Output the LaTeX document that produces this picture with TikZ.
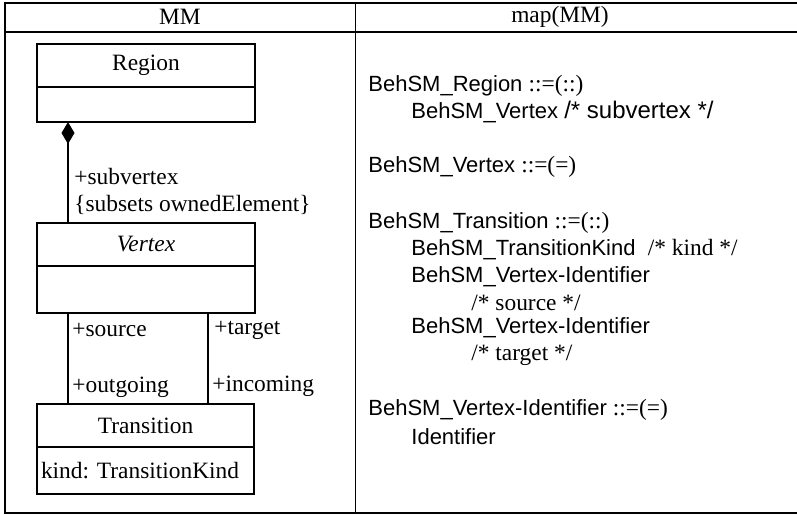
\documentclass[tikz,border=0pt]{standalone}
\usepackage{fontspec}
\setmainfont{Liberation Serif}
\setsansfont{Liberation Sans}
\usetikzlibrary{arrows.meta}

\newlength{\du}
\setlength{\du}{0.5pt}

\newcommand{\bnfrm}[1]{{\rmfamily\fontsize{11.7}{14}\selectfont #1}}

\tikzset{
  classbox/.style={draw, line width=2.2\du, minimum width=218\du, inner sep=0pt, outer sep=0pt,
    font=\fontsize{11.7}{14}\selectfont},
  rolelabel/.style={anchor=west, inner sep=0pt, font=\fontsize{11.7}{14}\selectfont},
  bnfline/.style={anchor=west, inner sep=0pt, font=\sffamily\fontsize{11}{13}\selectfont},
  assoc/.style={line width=2\du},
  tableline/.style={line width=1.6\du},
}

\begin{document}
\begin{tikzpicture}
\pgftransformxscale{1.000000}
\pgftransformyscale{-1.000000}
\frenchspacing
\useasboundingbox (0\du,0\du) rectangle (797\du,514\du);
% table frame
\draw[tableline] (797\du,3\du)--(5\du,3\du)--(5\du,513\du)--(797\du,513\du);
\draw[tableline] (5\du,32\du)--(797\du,32\du);
\draw[tableline] (355.5\du,3\du)--(355.5\du,513\du);
% setfont left to latex
\node[font=\fontsize{11.7}{14}\selectfont] (mmhead) at (180\du,17\du){MM};
\node[font=\fontsize{11.7}{14}\selectfont] (maphead) at (560\du,17\du){map(MM)};
% classes
\node[classbox, minimum height=43\du] (region) at (146\du,65.5\du){Region};
\node[classbox, minimum height=35\du, anchor=north] (regionattr) at (region.south){};
\node[classbox, minimum height=43\du] (vertex) at (146\du,244.5\du){\textit{Vertex}};
\node[classbox, minimum height=47\du, anchor=north] (vertexattr) at (vertex.south){};
\node[classbox, minimum height=43\du, minimum width=217\du] (transition) at (145.5\du,425.5\du){Transition};
\node[classbox, minimum height=47\du, minimum width=217\du, anchor=north,
  inner xsep=4\du, text width=209\du, align=left] (transitionattr) at (transition.south){kind: TransitionKind};
% composition
\draw[assoc, {Diamond[length=11pt,width=6.5pt]}-] ([xshift=-78\du]regionattr.south)--([xshift=-78\du]vertex.north);
\node[rolelabel] (subvertex) at (74\du,176\du){+subvertex};
\node[rolelabel] (subsets) at (74\du,205\du){\{subsets ownedElement\}};
% source / target
\draw[assoc] ([xshift=-78\du]vertexattr.south)--([xshift=-77.5\du]transition.north);
\draw[assoc] ([xshift=62\du]vertexattr.south)--([xshift=62.5\du]transition.north);
\node[rolelabel] (source) at (72\du,330\du){+source};
\node[rolelabel] (outgoing) at (72\du,387\du){+outgoing};
\node[rolelabel] (target) at (214\du,330\du){+target};
\node[rolelabel] (incoming) at (212\du,386\du){+incoming};
% setfont left to latex
\node[bnfline] (regionbnf) at (368\du,86\du){BehSM\_Region \bnfrm{::=(::)}};
\node[bnfline] (regionsub) at (411\du,112\du){BehSM\_Vertex {\fontsize{12}{14}\selectfont /* subvertex */}};
\node[bnfline] (vertexbnf) at (368\du,167\du){BehSM\_Vertex \bnfrm{::=(=)}};
\node[bnfline] (transbnf) at (368\du,223\du){BehSM\_Transition \bnfrm{::=(::)}};
\node[bnfline] (transkind) at (411\du,250\du){BehSM\_TransitionKind \ \bnfrm{/* kind */}};
\node[bnfline] (transsrc) at (411\du,277\du){BehSM\_Vertex-Identifier};
\node[bnfline] (srccomment) at (471\du,303\du){\bnfrm{/* source */}};
\node[bnfline] (transtgt) at (411\du,328\du){BehSM\_Vertex-Identifier};
\node[bnfline] (tgtcomment) at (471\du,355\du){\bnfrm{/* target */}};
\node[bnfline] (identbnf) at (368\du,410\du){BehSM\_Vertex-Identifier \bnfrm{::=(=)}};
\node[bnfline] (ident) at (411\du,437\du){Identifier};
\end{tikzpicture}
\end{document}
